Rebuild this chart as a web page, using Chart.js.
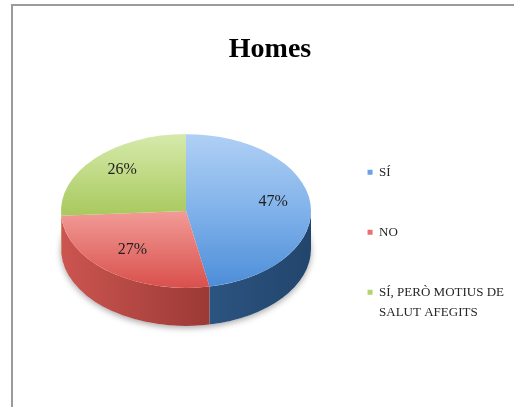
<!DOCTYPE html>
<html lang="ca">
<head>
<meta charset="UTF-8">
<title>Homes</title>
<script src="https://cdn.jsdelivr.net/npm/chart.js"></script>
<style>
  html, body { margin: 0; padding: 0; background: #fff; overflow: hidden; }
  #frame {
    position: absolute; left: 11px; top: 4px; width: 600px; height: 500px;
    border-left: 2px solid #9b9b9b; border-top: 2px solid #9b9b9b;
  }
  #chart { position: absolute; left: 0; top: 0; }
</style>
</head>
<body>
<div id="frame"></div>
<canvas id="chart" width="514" height="407"></canvas>
<script>
// dades
const categories = ['SÍ', 'NO', ['SÍ, PERÒ MOTIUS DE', 'SALUT AFEGITS']];
const percentages = [47, 27, 26];

// colors (cara superior: clar -> fosc, lateral: esquerra -> dreta)
const legendColors = ['#6aa2e4', '#e6716d', '#b3d36c'];
const topColors = [
  ['#b0d0f5', '#80b2ea', '#4c8dd8'],
  ['#f9c2bf', '#f29b97', '#d9504c'],
  ['#d6eaab', '#abcb62', '#8fb544']
];
const sideColors = [
  ['#3a6a9e', '#22456c'],
  ['#cc5550', '#7a2724'],
  ['#9dbd55', '#7f9d3c']
];

const PIE_RADIUS = 125;
const TILT = 0.615;      // alçada / amplada de l'el·lipse
const DEPTH = 38;        // gruix del pastís
const CENTER = { x: 186, y: 211 };

function topFill(context) {
  const chart = context.chart;
  const area = chart.chartArea;
  const i = context.dataIndex;
  if (!area) return legendColors[i];
  const cy = (area.top + area.bottom) / 2;
  const g = chart.ctx.createLinearGradient(0, cy - PIE_RADIUS, 0, cy + PIE_RADIUS);
  g.addColorStop(0, topColors[i][0]);
  g.addColorStop(0.5, topColors[i][1]);
  g.addColorStop(1, topColors[i][2]);
  return g;
}

// pastís en 3D: lateral dibuixat a mà, cara superior aixafada
const pie3d = {
  id: 'pie3d',
  beforeDatasetsDraw(chart) {
    const ctx = chart.ctx;
    const arcs = chart.getDatasetMeta(0).data;
    const rx = arcs[0].outerRadius;
    const ry = rx * TILT;
    const cx = CENTER.x, cy = CENTER.y;

    // ombra sota el pastís
    ctx.save();
    ctx.shadowColor = 'rgba(0,0,0,0.35)';
    ctx.shadowBlur = 6;
    ctx.shadowOffsetY = 2;
    ctx.fillStyle = '#fff';
    ctx.beginPath();
    ctx.ellipse(cx, cy + DEPTH, rx, ry, 0, 0, Math.PI * 2);
    ctx.fill();
    ctx.restore();

    // parets laterals (només la meitat del davant es veu)
    ctx.save();
    arcs.forEach((arc, i) => {
      const a = Math.max(arc.startAngle, 0);
      const b = Math.min(arc.endAngle, Math.PI);
      if (b <= a) return;
      const g = ctx.createLinearGradient(cx - rx, 0, cx + rx, 0);
      g.addColorStop(0, sideColors[i][0]);
      g.addColorStop(1, sideColors[i][1]);
      ctx.beginPath();
      ctx.ellipse(cx, cy, rx, ry, 0, a, b);
      ctx.ellipse(cx, cy + DEPTH, rx, ry, 0, b, a, true);
      ctx.closePath();
      ctx.fillStyle = g;
      ctx.fill();
    });
    ctx.restore();

    // la cara de dalt la dibuixa Chart.js, aixafada
    ctx.save();
    ctx.translate(cx, cy);
    ctx.scale(1, TILT);
    ctx.translate(-arcs[0].x, -arcs[0].y);
  },
  afterDatasetsDraw(chart) {
    const ctx = chart.ctx;
    ctx.restore();
    const arcs = chart.getDatasetMeta(0).data;
    const values = chart.data.datasets[0].data;
    const total = values.reduce((s, v) => s + v, 0);
    ctx.save();
    ctx.font = '16px "Liberation Serif"';
    ctx.fillStyle = '#1e1e1e';
    ctx.textAlign = 'center';
    ctx.textBaseline = 'middle';
    arcs.forEach((arc, i) => {
      const mid = (arc.startAngle + arc.endAngle) / 2;
      const x = CENTER.x + Math.cos(mid) * arc.outerRadius * 0.7;
      const y = CENTER.y + Math.sin(mid) * arc.outerRadius * 0.7 * TILT - 4;
      ctx.fillText(Math.round(values[i] / total * 100) + '%', x, y);
    });
    ctx.restore();
  }
};

new Chart(document.getElementById('chart'), {
  type: 'pie',
  data: {
    labels: categories,
    datasets: [{
      data: percentages,
      backgroundColor: topFill,
      borderWidth: 0,
      radius: PIE_RADIUS,
      clip: false
    }]
  },
  options: {
    responsive: false,
    animation: false,
    layout: { padding: { left: 26, right: 0, top: 0, bottom: 34 } },
    plugins: {
      title: {
        display: true,
        text: 'Homes',
        color: '#000',
        font: { family: 'Liberation Serif', size: 28, weight: 'bold' },
        padding: { top: 33, bottom: 18 }
      },
      legend: {
        position: 'right',
        align: 'end',
        labels: {
          boxWidth: 5,
          boxHeight: 5,
          padding: 47,
          color: '#262626',
          font: { family: 'Liberation Serif', size: 13, lineHeight: 1.55 },
          generateLabels(chart) {
            const items = Chart.overrides.doughnut.plugins.legend.labels.generateLabels(chart);
            items.forEach((item, i) => {
              item.fillStyle = legendColors[i];
              item.strokeStyle = legendColors[i];
              item.lineWidth = 0;
            });
            return items;
          }
        }
      },
      tooltip: { enabled: false }
    }
  },
  plugins: [pie3d]
});
</script>
</body>
</html>
